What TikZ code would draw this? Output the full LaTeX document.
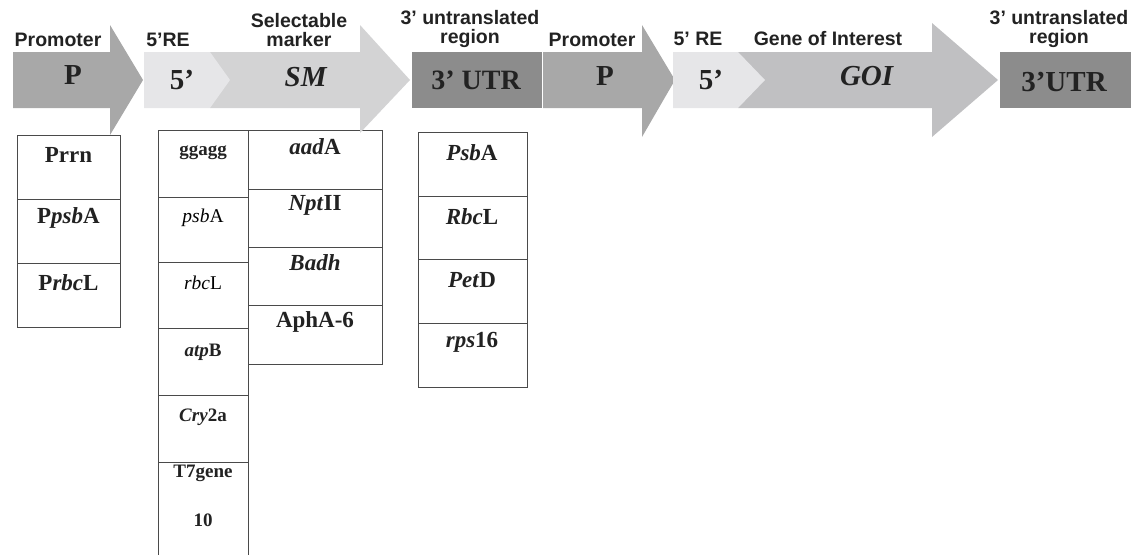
\documentclass[tikz,border=0pt]{standalone}
\usepackage{fontspec}
\setmainfont{Liberation Serif}
\newfontfamily\labfont{Liberation Sans}
\definecolor{pgrey}{HTML}{A8A8A8}
\definecolor{fivegrey}{HTML}{E6E6E8}
\definecolor{smgrey}{HTML}{D3D3D4}
\definecolor{goigrey}{HTML}{C0C0C2}
\definecolor{utrgrey}{HTML}{8C8C8C}
\definecolor{boxline}{HTML}{4A4A4A}
\definecolor{txt}{HTML}{222222}
\begin{document}
\begin{tikzpicture}[x=1pt,y=-1pt,
  lab/.style={font=\labfont\bfseries\fontsize{19.5}{21}\selectfont, align=center, inner sep=0, text=txt},
  big/.style={font=\bfseries\fontsize{29}{30}\selectfont, inner sep=0, text=txt},
  cell/.style={draw=boxline, line width=1.2pt, fill=white, anchor=north west, inner sep=0},
  ct/.style={font=\bfseries\fontsize{23}{25}\selectfont, inner sep=0, text=txt},
  cs/.style={font=\bfseries\fontsize{19}{20}\selectfont, inner sep=0, text=txt},
  csr/.style={font=\fontsize{19.5}{20}\selectfont, inner sep=0, text=black}]
\useasboundingbox (0,0) rectangle (1131,554);
\begin{scope}
\clip (0,0) rectangle (1131,554);
% ---------- column 1 : promoters
\node[cell, minimum width=103pt, minimum height=64pt] (p1) at (17,135) {};
\node[cell, minimum width=103pt, minimum height=64pt] (p2) at (17,199) {};
\node[cell, minimum width=103pt, minimum height=64pt] (p3) at (17,263) {};
\node[ct] at (68.5,155) {Prrn};
\node[ct] at (68.5,218) {P\textit{psb}A};
\node[ct] at (68.5,283) {P\textit{rbc}L};
% ---------- column 2 : 5' RE
\node[cell, minimum width=90pt, minimum height=67pt] (r1) at (158,130) {};
\node[cell, minimum width=90pt, minimum height=65pt] (r2) at (158,197) {};
\node[cell, minimum width=90pt, minimum height=66pt] (r3) at (158,262) {};
\node[cell, minimum width=90pt, minimum height=67pt] (r4) at (158,328) {};
\node[cell, minimum width=90pt, minimum height=67pt] (r5) at (158,395) {};
\node[cell, minimum width=90pt, minimum height=110pt] (r6) at (158,462) {};
\node[cs] at (203,153) {ggagg};
\node[csr] at (203,218) {\textit{psb}A};
\node[csr] at (203,283) {\textit{rbc}L};
\node[cs] at (203,352) {\textit{atp}B};
\node[cs] at (203,417) {\textit{Cry}2a};
\node[cs] at (203,473) {T7gene};
\node[cs] at (203,520) {10};
% ---------- column 3 : selectable markers
\node[cell, minimum width=134pt, minimum height=59pt] (m1) at (248,130) {};
\node[cell, minimum width=134pt, minimum height=58pt] (m2) at (248,189) {};
\node[cell, minimum width=134pt, minimum height=58pt] (m3) at (248,247) {};
\node[cell, minimum width=134pt, minimum height=59pt] (m4) at (248,305) {};
\node[ct] at (315,147) {\textit{aad}A};
\node[ct] at (315,205) {\textit{Npt}II};
\node[ct] at (315,263) {\textit{Badh}};
\node[ct] at (315,322) {AphA-6};
% ---------- column 4 : 3' UTR
\node[cell, minimum width=109pt, minimum height=64pt] (u1) at (418,132) {};
\node[cell, minimum width=109pt, minimum height=63pt] (u2) at (418,196) {};
\node[cell, minimum width=109pt, minimum height=64pt] (u3) at (418,259) {};
\node[cell, minimum width=109pt, minimum height=64pt] (u4) at (418,323) {};
\node[ct] at (472,153) {\textit{Psb}A};
\node[ct] at (472,217) {\textit{Rbc}L};
\node[ct] at (472,280) {\textit{Pet}D};
\node[ct] at (472,342) {\textit{rps}16};
% ---------- arrows, first cassette
\fill[pgrey] (13,52) -- (110,52) -- (110,25) -- (143,80) -- (110,135) -- (110,108) -- (13,108) -- cycle;
\fill[smgrey] (210,52) -- (360,52) -- (360,25) -- (410,80) -- (360,133) -- (360,108) -- (210,108) -- cycle;
\fill[fivegrey] (144,52) -- (210,52) -- (230,80) -- (210,108) -- (144,108) -- cycle;
\fill[utrgrey] (412,52) rectangle (542,108);
% ---------- arrows, second cassette
\fill[pgrey] (543,52) -- (642,52) -- (642,25) -- (675,80) -- (642,137) -- (642,108) -- (543,108) -- cycle;
\fill[goigrey] (738,52) -- (932,52) -- (932,23) -- (998,80) -- (932,137) -- (932,108) -- (738,108) -- cycle;
\fill[fivegrey] (673,52) -- (738,52) -- (765,80) -- (738,108) -- (673,108) -- cycle;
\fill[utrgrey] (1000,52) rectangle (1131,108);
\end{scope}
% ---------- texts inside arrows
\node[big] (tP1) at (73,75) {P};
\node[big] (t51) at (182,80) {5’};
\node[big] (tSM) at (306,77) {\textit{SM}};
\node[big, font=\bfseries\fontsize{28}{30}\selectfont] (tU1) at (476,80) {3’ UTR};
\node[big] (tP2) at (605,76) {P};
\node[big] (t52) at (711,80) {5’};
\node[big] (tG) at (867,76) {\textit{GOI}};
\node[big, font=\bfseries\fontsize{29}{30}\selectfont] (tU2) at (1064,82) {3’UTR};
% ---------- labels above
\node[lab] (l1) at (58,40) {Promoter};
\node[lab] (l2) at (168,40) {5’RE};
\node[lab] (l3) at (299,30) {Selectable\\[-2pt]marker};
\node[lab] (l4) at (470,29) {3’ untranslated\\[-2pt]region};
\node[lab] (l5) at (592,40) {Promoter};
\node[lab] (l6) at (698,39) {5’ RE};
\node[lab] (l7) at (828,39) {Gene of Interest};
\node[lab] (l8) at (1059,29) {3’ untranslated\\[-2pt]region};
\end{tikzpicture}
\end{document}
